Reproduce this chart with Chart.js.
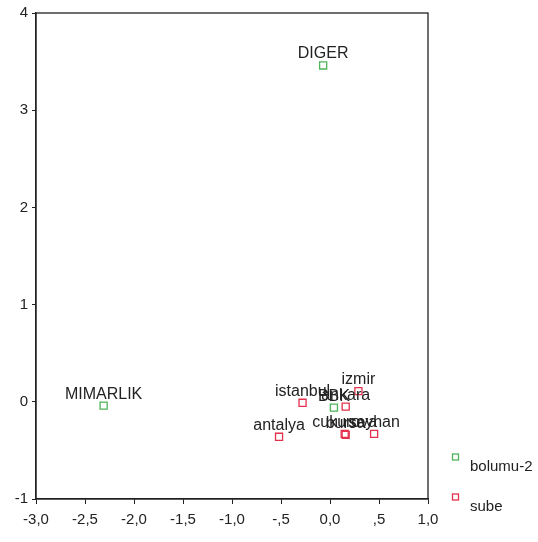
<!DOCTYPE html>
<html>
<head>
<meta charset="utf-8">
<script src="https://cdn.jsdelivr.net/npm/chart.js@4"></script>
<style>
  html, body { margin: 0; padding: 0; background: #fff; }
  #wrap { width: 538px; height: 542px; }
</style>
</head>
<body>
<div id="wrap"><canvas id="chart" width="538" height="542"></canvas></div>
<script>
// bolumu-2 points
const bolumuLabels = ["DIGER", "MIMARLIK", "BBK"];
const bolumuX = [-0.07, -2.31, 0.04];
const bolumuY = [3.46, -0.04, -0.06];

// sube points
const subeLabels = ["izmir", "istanbul", "ankara", "antalya", "cukurova", "bursa", "seyhan"];
const subeX = [0.29, -0.28, 0.16, -0.52, 0.15, 0.16, 0.45];
const subeY = [0.11, -0.01, -0.05, -0.36, -0.33, -0.34, -0.33];

const seriesNames = ["bolumu-2", "sube"];
const seriesColors = ["#4fb35a", "#e4324c"];

function toPoints(xs, ys) {
  return xs.map((x, i) => ({ x: x, y: ys[i] }));
}

function xTickText(v) {
  if (Math.abs(v) < 1e-9) return "0,0";
  let s = v.toFixed(1).replace(".", ",");
  return s.replace(/^(-?)0,/, "$1,");
}

const FONT = "'Liberation Sans', Arial, sans-serif";

// labels above points, box around plot, legend on the right
const extras = {
  id: "extras",
  afterDraw(chart) {
    const ctx = chart.ctx;
    const a = chart.chartArea;
    ctx.save();
    ctx.strokeStyle = "#222";
    ctx.lineWidth = 1.3;
    ctx.strokeRect(a.left, a.top, a.right - a.left, a.bottom - a.top);

    const xs = chart.scales.x, ys = chart.scales.y;
    ctx.font = "16px " + FONT;
    ctx.fillStyle = "#222";
    ctx.textAlign = "center";
    ctx.textBaseline = "alphabetic";
    const sets = [[bolumuLabels, bolumuX, bolumuY], [subeLabels, subeX, subeY]];
    sets.forEach(([labs, px, py]) => {
      labs.forEach((t, i) => {
        ctx.fillText(t, xs.getPixelForValue(px[i]), ys.getPixelForValue(py[i]) - 7);
      });
    });

    // legend
    ctx.font = "15px " + FONT;
    ctx.textAlign = "left";
    ctx.textBaseline = "middle";
    const ly = [457, 497];
    seriesNames.forEach((n, i) => {
      ctx.strokeStyle = seriesColors[i];
      ctx.lineWidth = 1.3;
      ctx.strokeRect(452.5, ly[i] - 3, 6, 6);
      ctx.fillStyle = "#222";
      ctx.fillText(n, 470, ly[i] + 10);
    });
    ctx.restore();
  }
};

new Chart(document.getElementById("chart"), {
  type: "scatter",
  data: {
    datasets: [
      {
        label: seriesNames[0],
        data: toPoints(bolumuX, bolumuY),
        pointStyle: "rect",
        pointRadius: 5,
        borderWidth: 1.3,
        borderColor: seriesColors[0],
        backgroundColor: "rgba(255,255,255,0)"
      },
      {
        label: seriesNames[1],
        data: toPoints(subeX, subeY),
        pointStyle: "rect",
        pointRadius: 5,
        borderWidth: 1.3,
        borderColor: seriesColors[1],
        backgroundColor: "rgba(255,255,255,0)"
      }
    ]
  },
  options: {
    responsive: false,
    animation: false,
    layout: { padding: { left: 0, right: 110, top: 10, bottom: 0 } },
    plugins: {
      legend: { display: false },
      tooltip: { enabled: false }
    },
    scales: {
      x: {
        type: "linear",
        min: -3,
        max: 1,
        afterFit: (s) => { s.height = 43; },
        border: { display: true, color: "#222", width: 1.3 },
        grid: { display: true, drawOnChartArea: false, drawTicks: true, tickLength: 5, color: "#222" },
        ticks: {
          stepSize: 0.5,
          padding: 7,
          color: "#222",
          font: { family: FONT, size: 15 },
          maxRotation: 0,
          callback: (v) => xTickText(v)
        }
      },
      y: {
        type: "linear",
        min: -1,
        max: 4,
        afterFit: (s) => { s.width = 36; },
        border: { display: true, color: "#222", width: 1.3 },
        grid: { display: true, drawOnChartArea: false, drawTicks: true, tickLength: 4, color: "#222" },
        ticks: {
          stepSize: 1,
          padding: 4,
          color: "#222",
          font: { family: FONT, size: 15 },
          callback: (v) => String(v)
        }
      }
    }
  },
  plugins: [extras]
});
</script>
</body>
</html>
